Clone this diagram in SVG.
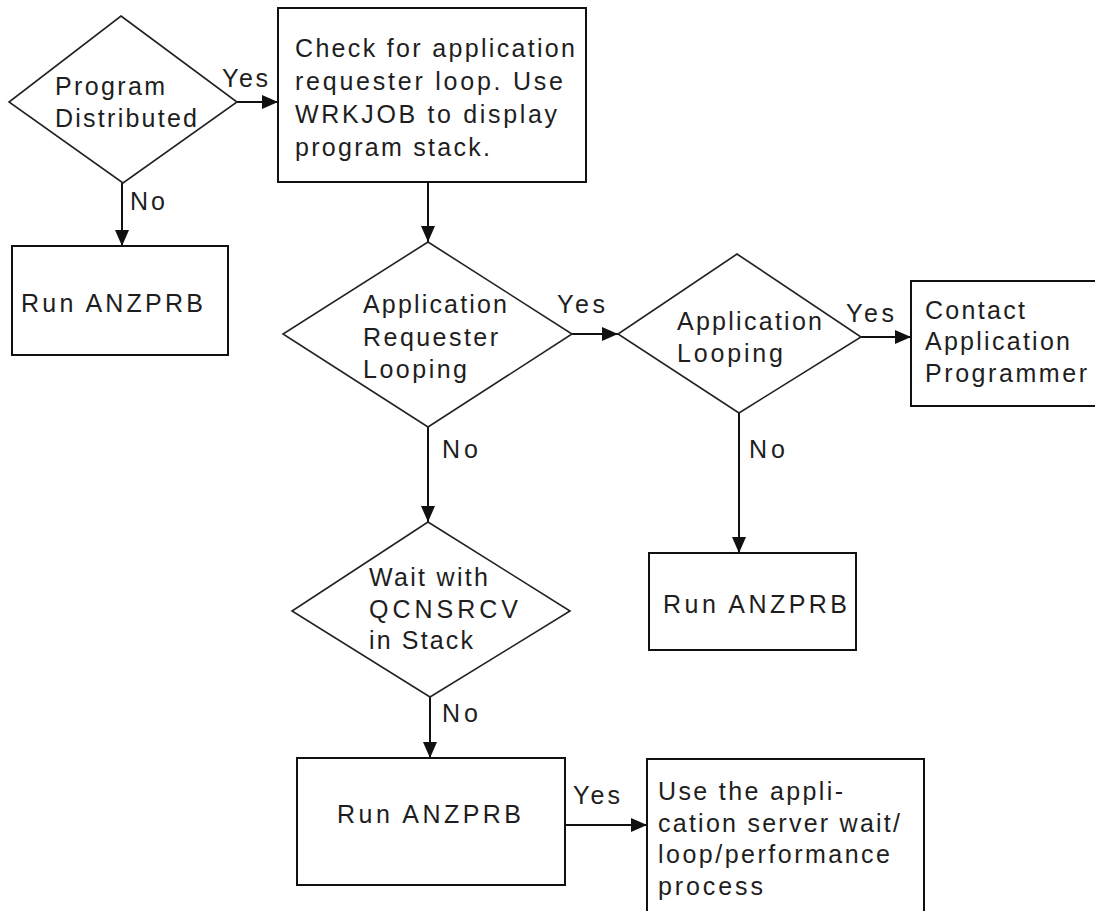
<svg xmlns="http://www.w3.org/2000/svg" width="1095" height="911" viewBox="0 0 1095 911">
<defs>
<marker id="arr" viewBox="0 0 16 14" refX="16" refY="7" markerWidth="16" markerHeight="14" markerUnits="userSpaceOnUse" orient="auto">
<path d="M0,0 L16,7 L0,14 z" fill="#111"/>
</marker>
<style>
.box{fill:#fff;stroke:#111;stroke-width:2}
.dia{fill:#fff;stroke:#222;stroke-width:1.6}
.edge{fill:none;stroke:#111;stroke-width:2;marker-end:url(#arr)}
text{font-family:"Liberation Sans",Arial,sans-serif;font-size:25px;fill:#1e1e1e}
</style>
</defs>
<rect width="1095" height="911" fill="#fff"/>

<g id="connectors">
<line class="edge" x1="237" y1="102" x2="278" y2="102"/>
<line class="edge" x1="122" y1="183" x2="122" y2="246"/>
<line class="edge" x1="428" y1="182" x2="428" y2="242"/>
<line class="edge" x1="572" y1="334" x2="618" y2="334"/>
<line class="edge" x1="861" y1="337" x2="911" y2="337"/>
<line class="edge" x1="739" y1="413" x2="739" y2="553"/>
<line class="edge" x1="428" y1="427" x2="428" y2="522"/>
<line class="edge" x1="430" y1="697" x2="430" y2="758"/>
<line class="edge" x1="565" y1="825" x2="647" y2="825"/>
<text x="222" y="87" textLength="46" lengthAdjust="spacing">Yes</text>
<text x="130" y="210" textLength="35" lengthAdjust="spacing">No</text>
<text x="557" y="313" textLength="48" lengthAdjust="spacing">Yes</text>
<text x="846" y="322" textLength="48" lengthAdjust="spacing">Yes</text>
<text x="442" y="458" textLength="36" lengthAdjust="spacing">No</text>
<text x="749" y="458" textLength="36" lengthAdjust="spacing">No</text>
<text x="442" y="722" textLength="36" lengthAdjust="spacing">No</text>
<text x="573" y="804" textLength="47" lengthAdjust="spacing">Yes</text>
</g>

<g id="d-program-distributed">
<polygon class="dia" points="121,16 237,102 123,183 9,102"/>
<text x="55" y="95" textLength="110" lengthAdjust="spacing">Program</text>
<text x="55" y="127" textLength="142" lengthAdjust="spacing">Distributed</text>
</g>

<g id="b-check-loop">
<rect class="box" x="278" y="8" width="308" height="174"/>
<text x="295" y="57" textLength="280" lengthAdjust="spacing">Check for application</text>
<text x="295" y="90" textLength="268" lengthAdjust="spacing">requester loop. Use</text>
<text x="295" y="123" textLength="262" lengthAdjust="spacing">WRKJOB to display</text>
<text x="295" y="156" textLength="195" lengthAdjust="spacing">program stack.</text>
</g>

<g id="b-run-anzprb-1">
<rect class="box" x="12" y="246" width="216" height="109"/>
<text x="21" y="312" textLength="182" lengthAdjust="spacing">Run ANZPRB</text>
</g>

<g id="d-requester-looping">
<polygon class="dia" points="428,242 572,334 428,427 283,334"/>
<text x="363" y="313" textLength="144" lengthAdjust="spacing">Application</text>
<text x="363" y="346" textLength="135" lengthAdjust="spacing">Requester</text>
<text x="363" y="378" textLength="104" lengthAdjust="spacing">Looping</text>
</g>

<g id="d-application-looping">
<polygon class="dia" points="737,254 861,337 739,413 618,334"/>
<text x="677" y="330" textLength="145" lengthAdjust="spacing">Application</text>
<text x="677" y="362" textLength="106" lengthAdjust="spacing">Looping</text>
</g>

<g id="b-contact">
<rect class="box" x="911" y="281" width="195" height="125"/>
<text x="925" y="319" textLength="100" lengthAdjust="spacing">Contact</text>
<text x="925" y="350" textLength="145" lengthAdjust="spacing">Application</text>
<text x="925" y="382" textLength="162" lengthAdjust="spacing">Programmer</text>
</g>

<g id="b-run-anzprb-2">
<rect class="box" x="649" y="553" width="207" height="97"/>
<text x="663" y="613" textLength="184" lengthAdjust="spacing">Run ANZPRB</text>
</g>

<g id="d-wait-qcnsrcv">
<polygon class="dia" points="428,522 570,611 430,697 292,611"/>
<text x="369" y="586" textLength="119" lengthAdjust="spacing">Wait with</text>
<text x="369" y="618" textLength="149" lengthAdjust="spacing">QCNSRCV</text>
<text x="369" y="649" textLength="104" lengthAdjust="spacing">in Stack</text>
</g>

<g id="b-run-anzprb-3">
<rect class="box" x="297" y="758" width="268" height="127"/>
<text x="337" y="823" textLength="184" lengthAdjust="spacing">Run ANZPRB</text>
</g>

<g id="b-use-server-process">
<rect class="box" x="647" y="759" width="277" height="170"/>
<text x="658" y="800" textLength="185" lengthAdjust="spacing">Use the appli-</text>
<text x="658" y="832" textLength="242" lengthAdjust="spacing">cation server wait/</text>
<text x="658" y="863" textLength="232" lengthAdjust="spacing">loop/performance</text>
<text x="658" y="895" textLength="105" lengthAdjust="spacing">process</text>
</g>
</svg>
